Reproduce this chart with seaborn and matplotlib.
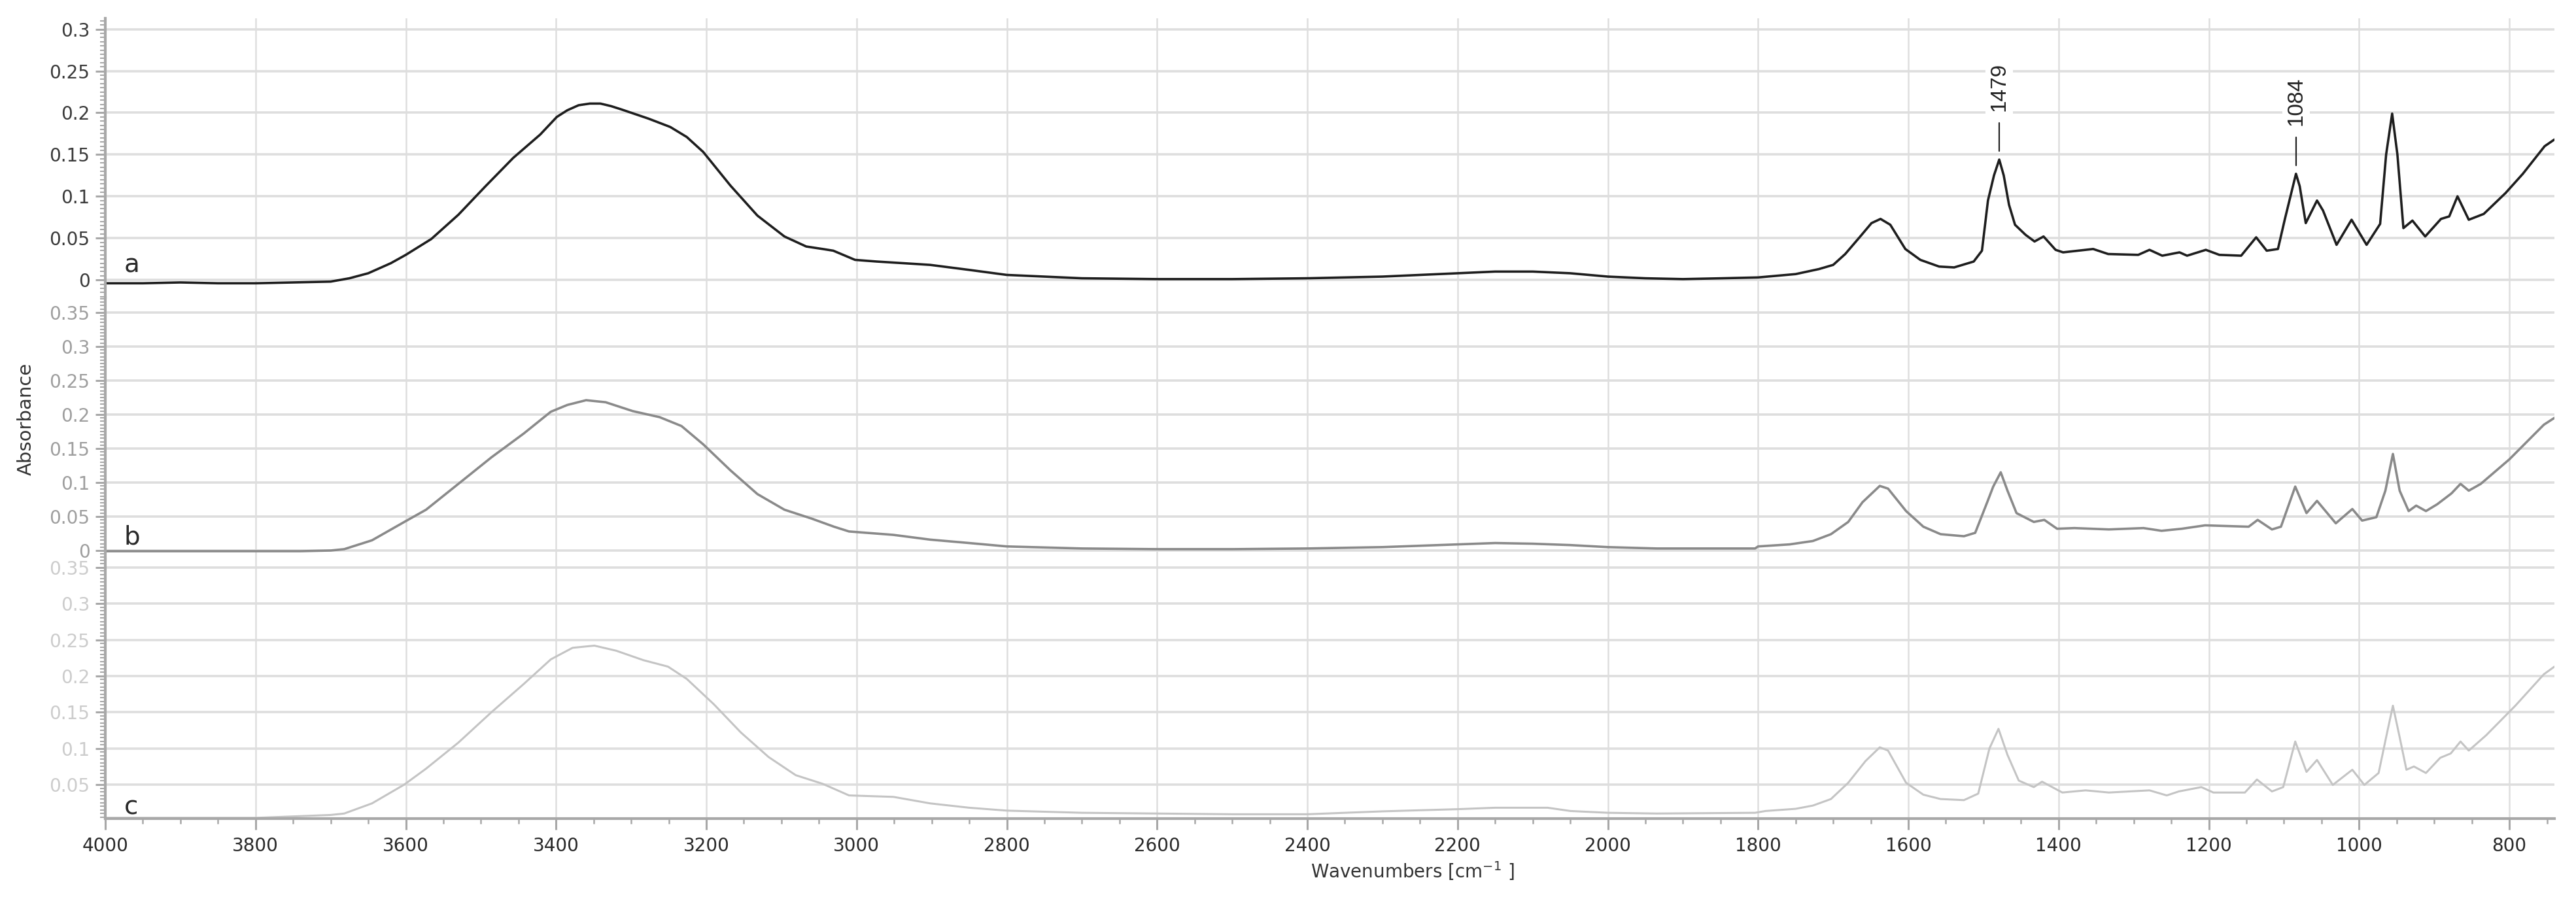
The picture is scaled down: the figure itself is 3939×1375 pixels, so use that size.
import matplotlib
matplotlib.use('Agg')
import pandas as pd
import matplotlib.pyplot as plt
from matplotlib.ticker import MultipleLocator, FuncFormatter
import seaborn as sns

# spectrum a (black, top panel)
wn_a = [4000, 3950, 3900, 3850, 3800, 3750, 3700, 3675, 3650, 3620, 3600, 3566, 3530, 3494,
        3457, 3421, 3399, 3385, 3370, 3355, 3341, 3327, 3313, 3277, 3248, 3226, 3204, 3168,
        3132, 3096, 3067, 3045, 3031, 3002, 2973, 2937, 2902, 2850, 2800, 2750, 2700, 2600,
        2500, 2400, 2300, 2250, 2200, 2150, 2100, 2050, 2000, 1950, 1900, 1848, 1800, 1750,
        1719, 1700, 1684, 1664, 1649, 1637, 1624, 1604, 1584, 1559, 1539, 1513, 1502, 1494,
        1486, 1479, 1473, 1466, 1458, 1444, 1432, 1420, 1404, 1394, 1354, 1334, 1294, 1279,
        1262, 1239, 1229, 1204, 1186, 1157, 1137, 1123, 1108, 1099, 1084, 1079, 1071, 1056,
        1048, 1030, 1010, 990, 972, 964, 956, 949, 941, 929, 912, 891, 880, 869, 854, 834,
        805, 782, 753, 740]
abs_a = [-0.004, -0.004, -0.003, -0.004, -0.004, -0.003, -0.002, 0.002, 0.008, 0.020, 0.030,
         0.049, 0.078, 0.112, 0.146, 0.174, 0.195, 0.203, 0.209, 0.211, 0.211, 0.208, 0.204,
         0.193, 0.183, 0.171, 0.153, 0.113, 0.077, 0.052, 0.040, 0.037, 0.035, 0.024, 0.022,
         0.020, 0.018, 0.012, 0.006, 0.004, 0.002, 0.001, 0.001, 0.002, 0.004, 0.006, 0.008,
         0.010, 0.010, 0.008, 0.004, 0.002, 0.001, 0.002, 0.003, 0.007, 0.013, 0.018, 0.031,
         0.052, 0.068, 0.073, 0.066, 0.037, 0.024, 0.016, 0.015, 0.022, 0.035, 0.095, 0.125,
         0.144, 0.125, 0.090, 0.066, 0.054, 0.046, 0.052, 0.036, 0.033, 0.037, 0.031, 0.030,
         0.036, 0.029, 0.033, 0.029, 0.036, 0.030, 0.029, 0.051, 0.035, 0.037, 0.072, 0.127,
         0.112, 0.068, 0.095, 0.083, 0.042, 0.072, 0.042, 0.067, 0.150, 0.199, 0.150, 0.062,
         0.071, 0.052, 0.073, 0.076, 0.100, 0.072, 0.079, 0.104, 0.127, 0.160, 0.168]

# spectrum b (grey, middle panel)
wn_b = [4000, 3900, 3800, 3740, 3700, 3682, 3645, 3602, 3573, 3530, 3486, 3443, 3407, 3385,
        3360, 3334, 3298, 3262, 3233, 3204, 3168, 3132, 3096, 3060, 3030, 3010, 2951, 2902,
        2850, 2800, 2700, 2600, 2500, 2400, 2300, 2200, 2150, 2100, 2050, 2000, 1935, 1804,
        1800, 1758, 1727, 1703, 1680, 1661, 1638, 1627, 1603, 1580, 1557, 1526, 1511, 1495,
        1487, 1477, 1468, 1456, 1433, 1419, 1402, 1379, 1333, 1287, 1263, 1236, 1205, 1147,
        1135, 1116, 1104, 1085, 1070, 1056, 1031, 1009, 996, 977, 965, 955, 946, 934, 924,
        911, 896, 877, 865, 854, 838, 800, 754, 740]
abs_b = [-0.001, -0.001, -0.001, -0.001, 0.000, 0.002, 0.015, 0.042, 0.060, 0.098, 0.137,
         0.172, 0.204, 0.214, 0.221, 0.218, 0.205, 0.196, 0.183, 0.156, 0.118, 0.083, 0.060,
         0.047, 0.035, 0.028, 0.023, 0.016, 0.011, 0.006, 0.003, 0.002, 0.002, 0.003, 0.005,
         0.009, 0.011, 0.010, 0.008, 0.005, 0.003, 0.003, 0.006, 0.009, 0.014, 0.024, 0.042,
         0.071, 0.095, 0.091, 0.058, 0.035, 0.024, 0.021, 0.026, 0.071, 0.094, 0.115, 0.088,
         0.055, 0.042, 0.045, 0.032, 0.033, 0.031, 0.033, 0.029, 0.032, 0.037, 0.035, 0.045,
         0.031, 0.035, 0.094, 0.055, 0.073, 0.040, 0.061, 0.044, 0.049, 0.088, 0.142, 0.088,
         0.058, 0.066, 0.058, 0.068, 0.084, 0.098, 0.088, 0.098, 0.134, 0.185, 0.195]

# spectrum c (light grey, bottom panel)
wn_c = [4000, 3900, 3800, 3750, 3700, 3682, 3645, 3602, 3573, 3530, 3486, 3443, 3407, 3378,
        3349, 3320, 3284, 3251, 3226, 3190, 3154, 3117, 3081, 3045, 3010, 2951, 2902, 2850,
        2800, 2700, 2600, 2500, 2400, 2300, 2200, 2150, 2080, 2050, 2000, 1935, 1804, 1790,
        1750, 1727, 1703, 1680, 1657, 1638, 1627, 1603, 1580, 1557, 1526, 1507, 1492, 1480,
        1468, 1453, 1433, 1422, 1395, 1364, 1333, 1279, 1256, 1240, 1210, 1194, 1152, 1136,
        1116, 1101, 1085, 1070, 1056, 1035, 1009, 993, 974, 964, 955, 946, 937, 927, 911,
        892, 878, 865, 854, 831, 792, 754, 740]
abs_c = [0.004, 0.004, 0.004, 0.006, 0.008, 0.010, 0.024, 0.050, 0.072, 0.108, 0.150, 0.189,
         0.223, 0.239, 0.242, 0.235, 0.222, 0.213, 0.196, 0.161, 0.122, 0.088, 0.063, 0.051,
         0.035, 0.033, 0.024, 0.018, 0.014, 0.011, 0.010, 0.009, 0.009, 0.013, 0.016, 0.018,
         0.018, 0.0135, 0.011, 0.010, 0.011, 0.0135, 0.0165, 0.021, 0.030, 0.0525, 0.0825,
         0.1015, 0.097, 0.0525, 0.036, 0.030, 0.0285, 0.0375, 0.100, 0.127, 0.091, 0.0555,
         0.0465, 0.054, 0.039, 0.042, 0.039, 0.042, 0.035, 0.0405, 0.0465, 0.039, 0.039,
         0.057, 0.0405, 0.0465, 0.1095, 0.0675, 0.084, 0.0495, 0.0705, 0.0495, 0.066, 0.1155,
         0.159, 0.1155, 0.0705, 0.075, 0.066, 0.087, 0.093, 0.1095, 0.097, 0.118, 0.159, 0.2025,
         0.213]

sample_labels = ['a', 'b', 'c']
peak_wn = [1479, 1084]
peak_abs = [0.144, 0.127]

line_colors = ['#1e1e1e', '#8a8a8a', '#c4c4c4']
tick_colors = ['#3a3a3a', '#9e9e9e', '#cccccc']
line_widths = [2.6, 2.6, 2.2]
y_limits = [(-0.021, 0.313), (-0.0125, 0.372), (0.003, 0.3617)]

W, H = 3939, 1375
# panel boxes in pixels: (top, bottom)
panel_px = [(28, 455), (455, 855), (855, 1252)]
left_px, right_px = 161, 3906

sns.set_style('white')
plt.rcParams['font.family'] = ['DejaVu Sans']
plt.rcParams['mathtext.default'] = 'regular'

fig = plt.figure(figsize=(W / 100, H / 100), dpi=100)

spectra = [(wn_a, abs_a), (wn_b, abs_b), (wn_c, abs_c)]
axes = []
for i, (wn, ab) in enumerate(spectra):
    top, bot = panel_px[i]
    ax = fig.add_axes([left_px / W, 1 - bot / H, (right_px - left_px) / W, (bot - top) / H])
    axes.append(ax)
    ax.patch.set_alpha(0)
    df = pd.DataFrame({'wavenumber': wn, 'absorbance': ab})
    sns.lineplot(data=df, x='wavenumber', y='absorbance', ax=ax, color=line_colors[i],
                 linewidth=line_widths[i], sort=False, estimator=None, legend=False)
    ax.set_xlim(4000, 740)
    ax.set_ylim(*y_limits[i])
    ax.set_xlabel('')
    ax.set_ylabel('')

    ax.xaxis.set_major_locator(MultipleLocator(200))
    ax.xaxis.set_minor_locator(MultipleLocator(50))
    ax.yaxis.set_major_locator(MultipleLocator(0.05))
    ax.yaxis.set_minor_locator(MultipleLocator(0.005))
    ax.yaxis.set_major_formatter(FuncFormatter(lambda v, p: f'{round(v, 3):g}'))

    ax.grid(which='major', axis='x', color='#dedede', linewidth=1.8)
    ax.grid(which='major', axis='y', color='#dedede', linewidth=2.6)
    ax.set_axisbelow(True)

    for s in ['top', 'right']:
        ax.spines[s].set_visible(False)
    ax.spines['left'].set_color('#a8a8a8')
    ax.spines['left'].set_linewidth(3)
    ax.spines['bottom'].set_color('#a8a8a8')
    ax.spines['bottom'].set_linewidth(3)

    ax.tick_params(axis='y', which='major', length=11, width=2.2, color='#a8a8a8',
                   labelsize=20, labelcolor=tick_colors[i], pad=6, left=True)
    ax.tick_params(axis='y', which='minor', length=5.5, width=1.5, color='#a8a8a8', left=True)

    if i < 2:
        ax.spines['bottom'].set_visible(False)
        ax.tick_params(axis='x', which='both', bottom=False, labelbottom=False)
    else:
        ax.tick_params(axis='x', which='major', length=12, width=2.2, color='#a8a8a8',
                       labelsize=20, labelcolor='#2a2a2a', pad=8, bottom=True)
        ax.tick_params(axis='x', which='minor', length=6, width=1.8, color='#a8a8a8',
                       bottom=True)

    ax.text(3975, 0.009, sample_labels[i], fontsize=28, color='#2a2a2a',
            ha='left', va='baseline')

# peak markers on spectrum a
ax_a = axes[0]
for wn, h in zip(peak_wn, peak_abs):
    ax_a.plot([wn, wn], [h + 0.010, h + 0.044], color='#222222', linewidth=1.6)
    ax_a.text(wn, h + 0.058, str(wn), rotation=90, ha='center', va='bottom',
              fontsize=24, family=['Liberation Sans', 'DejaVu Sans'], color='#222222',
              bbox=dict(facecolor='white', edgecolor='none', pad=4))

fig.text(40 / W, 1 - 641 / H, 'Absorbance', rotation=90, ha='center', va='center',
         fontsize=21, color='#333333')
fig.text(2160 / W, 1 - 1332 / H, 'Wavenumbers [cm$^{-1}$ ]', ha='center', va='center',
         fontsize=20, color='#333333')

fig.savefig('out.png', dpi=100)
